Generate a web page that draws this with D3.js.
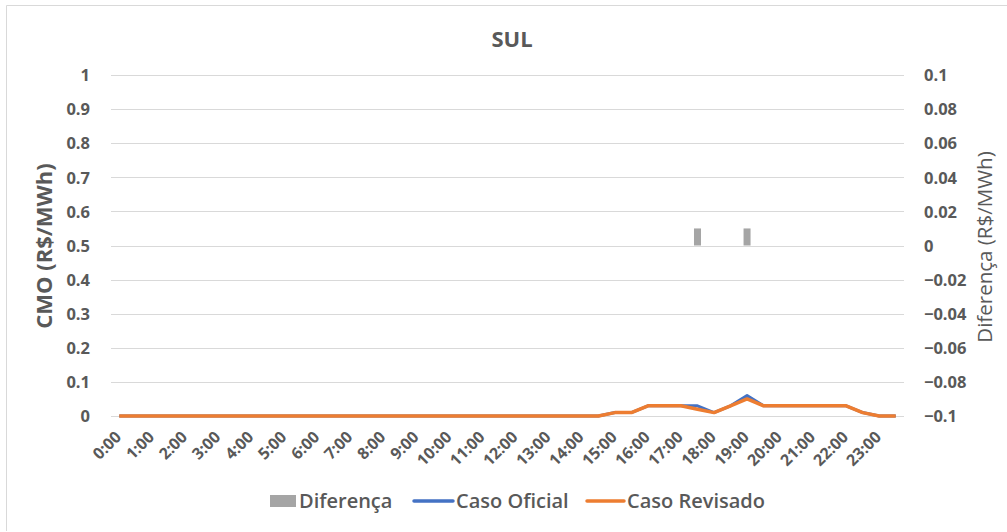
<!DOCTYPE html>
<html>
<head>
<meta charset="utf-8">
<script src="https://cdn.jsdelivr.net/npm/d3@7"></script>
<style>
  body { margin: 0; background: #fff; }
  text { font-family: "Open Sans", Lato, sans-serif; fill: #595959; }
</style>
</head>
<body>
<svg id="chart"></svg>
<script>
// half-hour slots, 0:00 .. 23:30
const slots = d3.range(48).map(i => Math.floor(i / 2) + ":" + (i % 2 ? "30" : "00"));
const tickLabels = slots.filter((d, i) => i % 2 == 0);

const casoOficial = [
  0, 0, 0, 0, 0, 0, 0, 0, 0, 0,
  0, 0, 0, 0, 0, 0, 0, 0, 0, 0,
  0, 0, 0, 0, 0, 0, 0, 0, 0, 0,
  0.01, 0.01, 0.03, 0.03, 0.03, 0.03, 0.01, 0.03, 0.06, 0.03,
  0.03, 0.03, 0.03, 0.03, 0.03, 0.01, 0, 0
];
const casoRevisado = [
  0, 0, 0, 0, 0, 0, 0, 0, 0, 0,
  0, 0, 0, 0, 0, 0, 0, 0, 0, 0,
  0, 0, 0, 0, 0, 0, 0, 0, 0, 0,
  0.01, 0.01, 0.03, 0.03, 0.03, 0.02, 0.01, 0.03, 0.05, 0.03,
  0.03, 0.03, 0.03, 0.03, 0.03, 0.01, 0, 0
];
const diferenca = casoOficial.map((v, i) => +(v - casoRevisado[i]).toFixed(4));

const leftTicks = d3.range(0, 11).map(d => d / 10);
const rightTicks = d3.range(-5, 6).map(d => d / 50);

const width = 1007, height = 532;
const margin = { top: 75, right: 103, bottom: 116, left: 111 };

const svg = d3.select("#chart")
    .attr("width", width)
    .attr("height", height);

// chart border (only top and left visible)
svg.append("path")
    .attr("d", "M6.5,531 L6.5,5.5 L1007,5.5")
    .attr("fill", "none")
    .attr("stroke", "#d9d9d9");

const x = d3.scaleBand()
    .domain(slots)
    .range([margin.left, width - margin.right]);

const y = d3.scaleLinear()
    .domain([0, 1])
    .range([height - margin.bottom, margin.top]);

const y2 = d3.scaleLinear()
    .domain([-0.1, 0.1])
    .range([height - margin.bottom, margin.top]);

// gridlines
svg.append("g")
    .selectAll("line")
    .data(leftTicks)
    .join("line")
    .attr("x1", margin.left)
    .attr("x2", width - margin.right)
    .attr("y1", d => Math.round(y(d)) + 0.5)
    .attr("y2", d => Math.round(y(d)) + 0.5)
    .attr("stroke", "#d9d9d9")
    .attr("stroke-width", 1);

// left axis
const yAxis = svg.append("g")
    .attr("transform", `translate(${margin.left - 18},0)`)
    .call(d3.axisLeft(y).tickValues(leftTicks).tickSize(0).tickFormat(d => d3.format("")(+d.toFixed(1))));
yAxis.select(".domain").remove();
yAxis.selectAll("text")
    .attr("font-size", 16.5)
    .attr("font-weight", "bold")
    .attr("dy", "0.35em");

// right axis
const y2Axis = svg.append("g")
    .attr("transform", `translate(${width - margin.right + 17},0)`)
    .call(d3.axisRight(y2).tickValues(rightTicks).tickSize(0).tickFormat(d => d3.format("")(+d.toFixed(2))));
y2Axis.select(".domain").remove();
y2Axis.selectAll("text")
    .attr("font-size", 16.5)
    .attr("font-weight", "bold")
    .attr("dy", "0.35em");

// x axis labels
const xAxis = svg.append("g")
    .attr("transform", `translate(0,${height - margin.bottom})`)
    .call(d3.axisBottom(x).tickValues(tickLabels).tickSize(0));
xAxis.select(".domain").remove();
xAxis.selectAll("text")
    .attr("font-size", 16)
    .attr("font-weight", "bold")
    .attr("text-anchor", "end")
    .attr("y", 0)
    .attr("dy", "0.35em")
    .attr("transform", "translate(-1,18) rotate(-45)");

// bars (Diferença, right axis)
svg.append("g")
    .selectAll("rect")
    .data(diferenca.map((v, i) => ({ slot: slots[i], v })).filter(d => d.v != 0))
    .join("rect")
    .attr("x", d => x(d.slot) + x.bandwidth() / 2 - 3.5)
    .attr("width", 7)
    .attr("y", d => y2(Math.max(0, d.v)))
    .attr("height", d => Math.abs(y2(d.v) - y2(0)))
    .attr("fill", "#a5a5a5");

const line = d3.line()
    .x((d, i) => x(slots[i]) + x.bandwidth() / 2)
    .y(d => y(d));

svg.append("path")
    .datum(casoOficial)
    .attr("d", line)
    .attr("fill", "none")
    .attr("stroke", "#4472c4")
    .attr("stroke-width", 3)
    .attr("stroke-linejoin", "round");

svg.append("path")
    .datum(casoRevisado)
    .attr("d", line)
    .attr("fill", "none")
    .attr("stroke", "#ed7d31")
    .attr("stroke-width", 3.5)
    .attr("stroke-linejoin", "round");

// title
svg.append("text")
    .attr("x", 512)
    .attr("y", 47)
    .attr("text-anchor", "middle")
    .attr("font-size", 22)
    .attr("font-weight", "bold")
    .text("SUL");

// axis titles
svg.append("text")
    .attr("transform", "translate(52,246) rotate(-90)")
    .attr("text-anchor", "middle")
    .attr("font-size", 22)
    .attr("font-weight", "bold")
    .text("CMO (R$/MWh)");

svg.append("text")
    .attr("transform", "translate(992,247) rotate(-90)")
    .attr("text-anchor", "middle")
    .attr("font-size", 20.5)
    .text("Diferença (R$/MWh)");

// legend
const legend = svg.append("g").attr("transform", "translate(0,501)");
legend.append("rect")
    .attr("x", 270).attr("y", -6).attr("width", 26).attr("height", 12)
    .attr("fill", "#a5a5a5");
legend.append("text")
    .attr("x", 299).attr("y", 0).attr("dy", "0.35em")
    .attr("font-size", 20).attr("font-weight", 600)
    .text("Diferença");
legend.append("line")
    .attr("x1", 414).attr("x2", 453).attr("y1", 0).attr("y2", 0)
    .attr("stroke", "#4472c4").attr("stroke-width", 3.5).attr("stroke-linecap", "round");
legend.append("text")
    .attr("x", 456).attr("y", 0).attr("dy", "0.35em")
    .attr("font-size", 20).attr("font-weight", 600)
    .text("Caso Oficial");
legend.append("line")
    .attr("x1", 587).attr("x2", 624).attr("y1", 0).attr("y2", 0)
    .attr("stroke", "#ed7d31").attr("stroke-width", 3.5).attr("stroke-linecap", "round");
legend.append("text")
    .attr("x", 627).attr("y", 0).attr("dy", "0.35em")
    .attr("font-size", 20).attr("font-weight", 600)
    .text("Caso Revisado");
</script>
</body>
</html>
